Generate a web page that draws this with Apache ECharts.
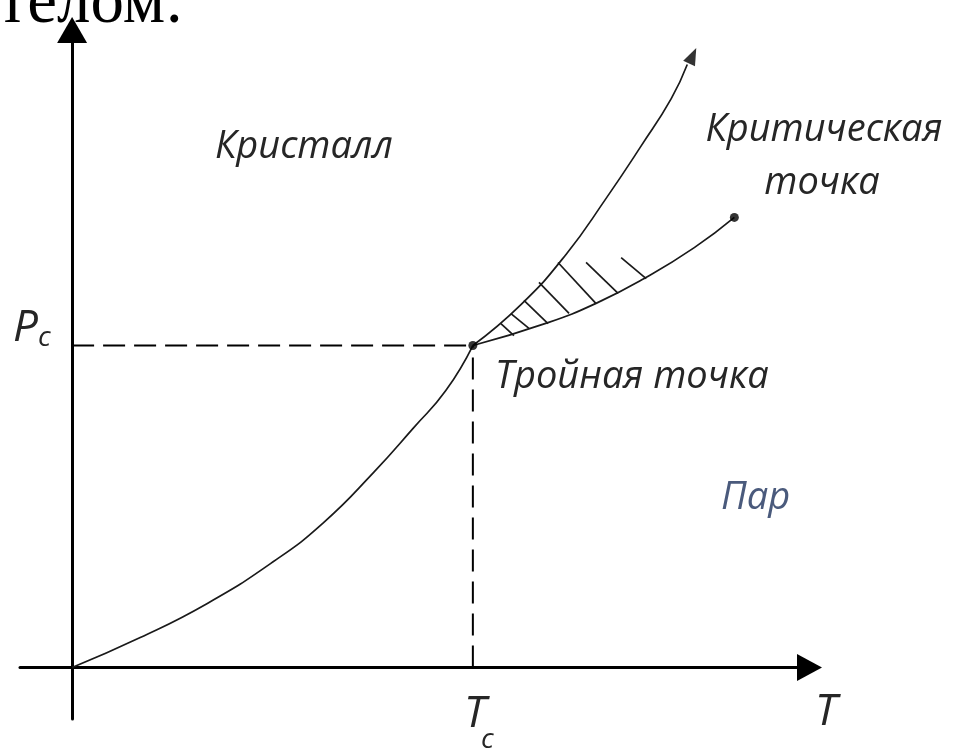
<!DOCTYPE html>
<html>
<head>
<meta charset="utf-8">
<script src="https://cdn.jsdelivr.net/npm/echarts@6/dist/echarts.min.js"></script>
<style>
    html, body { margin: 0; padding: 0; background: #fff; }
    #chart { width: 969px; height: 752px; }
</style>
</head>
<body>
<div id="chart"></div>
<script>
// единицы: T / Tc и P / Pc (тройная точка = 1, 1)

// кривая сублимации (кристалл - пар)
var sublimT = [0, 0.17, 0.3375, 0.5025, 0.6275, 0.7525, 0.8525, 0.9325, 1];
var sublimP = [0, 0.093, 0.199, 0.329, 0.450, 0.606, 0.745, 0.860, 1];

// кривая плавления (уходит вверх со стрелкой)
var meltT = [1, 1.12, 1.2325, 1.3325, 1.42, 1.495, 1.535];
var meltP = [1, 1.127, 1.283, 1.457, 1.620, 1.767, 1.873];
var meltArrow = [1.5485, 1.90];

// кривая испарения до критической точки
var vapT = [1, 1.1875, 1.3125, 1.4275, 1.5525, 1.6525];
var vapP = [1, 1.071, 1.134, 1.208, 1.304, 1.398];

// штриховка между плавлением и испарением
var hatchFrom = [[1.07, 1.068], [1.095, 1.099], [1.1275, 1.14], [1.165, 1.196], [1.2125, 1.258], [1.2825, 1.258], [1.37, 1.273]];
var hatchTo = [[1.1025, 1.031], [1.14, 1.053], [1.1875, 1.068], [1.24, 1.1], [1.3075, 1.13], [1.3625, 1.162], [1.4325, 1.208]];

var triplePoint = [1, 1];
var criticalPoint = [1.6525, 1.398];

function zip(xs, ys) {
    var out = [];
    for (var i = 0; i < xs.length; i++) out.push([xs[i], ys[i]]);
    return out;
}

var myChart = echarts.init(document.getElementById('chart'));

var labelFont = 'italic 38px "Open Sans", Lato, sans-serif';
var symFont = 'italic 44px "Open Sans", Lato, sans-serif';
var subFont = 'italic 28px "Open Sans", Lato, sans-serif';
var ink = '#1a1a1a';

function txt(text, x, y, font, fill, align) {
    return {
        type: 'text', x: x, y: y, z: 50,
        style: {
            text: text, font: font, fill: fill || '#262626',
            align: align || 'left', textAlign: align || 'left',
            verticalAlign: 'middle', textVerticalAlign: 'middle'
        }
    };
}

var option = {
    animation: false,
    backgroundColor: '#fff',
    grid: { left: 20, right: 159.5, top: 30, bottom: 33 },
    xAxis: {
        type: 'value', min: -0.13, max: 1.84,
        splitLine: { show: false }, axisTick: { show: false }, axisLabel: { show: false },
        axisLine: {
            onZero: true,
            symbol: ['none', 'triangle'], symbolSize: [27, 25],
            lineStyle: { color: '#000', width: 3 }
        }
    },
    yAxis: {
        type: 'value', min: -0.16, max: 1.98,
        splitLine: { show: false }, axisTick: { show: false }, axisLabel: { show: false },
        axisLine: {
            onZero: true,
            symbol: ['none', 'triangle'], symbolSize: [30, 26],
            lineStyle: { color: '#000', width: 3 }
        }
    },
    series: [
        {
            // пунктир к Pc
            type: 'line', data: [[0, triplePoint[1]], triplePoint], symbol: 'none',
            lineStyle: { color: '#000', width: 2, type: [22, 9] }
        },
        {
            // пунктир к Tc
            type: 'line', data: [[triplePoint[0], 0], triplePoint], symbol: 'none',
            lineStyle: { color: '#000', width: 2, type: [22, 10] }
        },
        {
            type: 'line', data: zip(sublimT, sublimP), smooth: 0.5, symbol: 'none',
            lineStyle: { color: ink, width: 1.7 }
        },
        {
            type: 'line', data: zip(meltT, meltP), smooth: 0.5, symbol: 'none',
            lineStyle: { color: ink, width: 1.7 }
        },
        {
            type: 'line', data: zip(vapT, vapP), smooth: 0.5, symbol: 'none',
            lineStyle: { color: ink, width: 1.7 }
        },
        {
            type: 'lines', coordinateSystem: 'cartesian2d',
            data: hatchFrom.map(function (p, i) { return { coords: [p, hatchTo[i]] }; }),
            lineStyle: { color: ink, width: 1.7, opacity: 1 }
        },
        {
            type: 'scatter', data: [meltArrow], symbol: 'triangle',
            symbolSize: [13, 17], symbolRotate: -25,
            itemStyle: { color: '#000' }
        },
        {
            type: 'scatter', data: [triplePoint, criticalPoint], symbolSize: 9,
            itemStyle: { color: '#000' }, z: 10
        }
    ],
    graphic: [
        txt('телом:', -2, 4, '67px "Liberation Serif", serif', '#000'),
        txt('Кристалл', 215, 147, labelFont),
        txt('Критическая', 824, 130, labelFont, null, 'center'),
        txt('точка', 822, 183, labelFont, null, 'center'),
        txt('Тройная точка', 495, 377, labelFont),
        txt('Пар', 721, 498, labelFont, '#4a5a7c'),
        txt('P', 13, 328, symFont),
        txt('c', 38, 338, subFont),
        txt('T', 464, 714, symFont),
        txt('c', 481, 740, subFont),
        txt('T', 815, 712, symFont)
    ]
};

myChart.setOption(option);
</script>
</body>
</html>
